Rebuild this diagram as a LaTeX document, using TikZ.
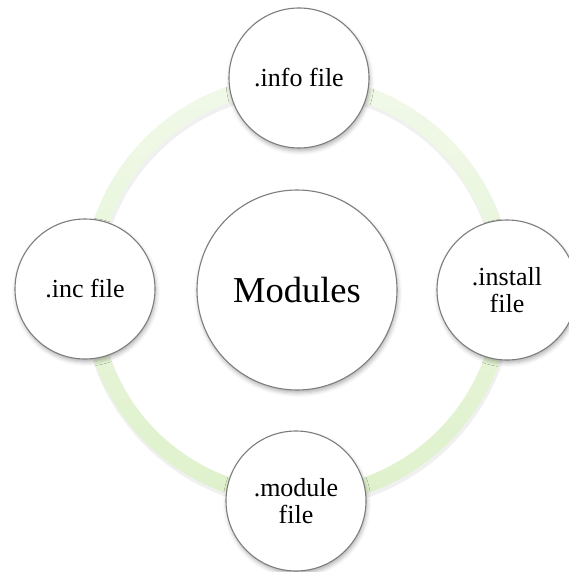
\documentclass[tikz,border=0pt]{standalone}
\usepackage{fontspec}
\setmainfont{Liberation Serif}
\usetikzlibrary{shadows.blur}
\definecolor{ringtop}{RGB}{241,249,233}
\definecolor{ringbot}{RGB}{222,241,203}
\definecolor{edgegray}{RGB}{125,125,125}
\begin{document}
\begin{tikzpicture}[x=1pt,y=-1pt,
  bubble/.style={circle, draw=edgegray, line width=1.1pt, fill=white,
    inner sep=0pt, align=center, minimum size=140pt,
    font=\fontsize{26}{27}\selectfont,
    blur shadow={shadow xshift=1pt, shadow yshift=-3pt,
      shadow blur radius=4pt, shadow opacity=30}},
  ring/.style={top color=ringtop, bottom color=ringbot, even odd rule}
]
\useasboundingbox (0,0) rectangle (569,572);
\coordinate (c) at (297,290);
% ring with faint shadow
\fill[black, opacity=0.06, even odd rule] ([shift={(1,3)}]c) circle[radius=216] ([shift={(1,3)}]c) circle[radius=198];
\shade[ring] (c) circle[radius=215] (c) circle[radius=199];
% nodes
\node[bubble, minimum size=200pt, font=\fontsize{36.5}{40}\selectfont] (mod) at (c) {Modules};
\node[bubble] (info) at (299,78) {.info file};
\node[bubble] (inst) at (507,290) {.install\\file};
\node[bubble] (modf) at (296,501) {.module\\file};
\node[bubble] (inc) at (85,289) {.inc file};
\end{tikzpicture}
\end{document}
